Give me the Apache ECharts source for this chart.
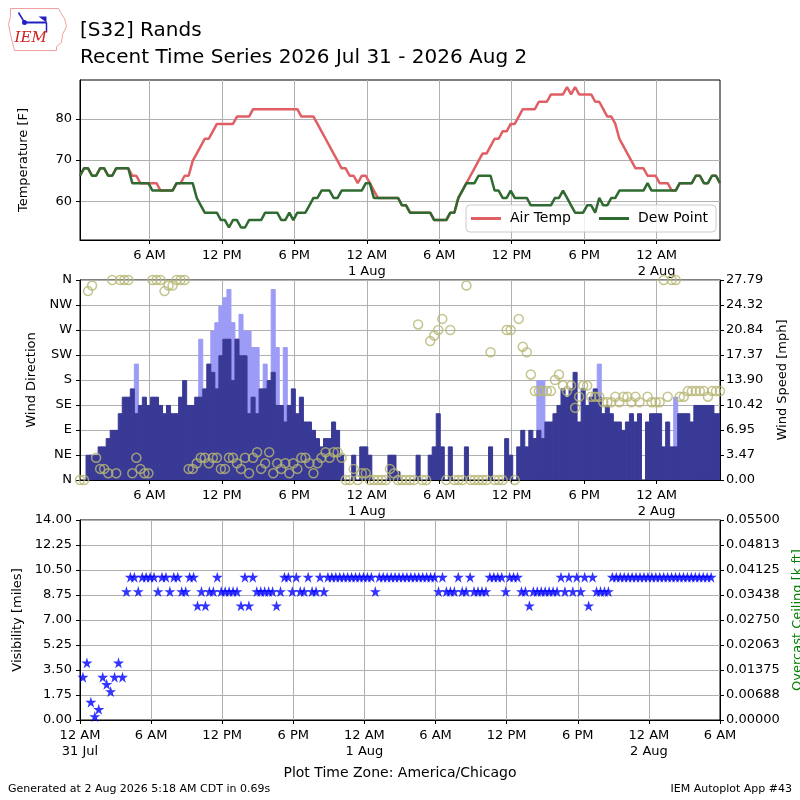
<!DOCTYPE html>
<html><head><meta charset="utf-8">
<script src="https://cdn.jsdelivr.net/npm/echarts@6/dist/echarts.min.js"></script>
<style>html,body{margin:0;padding:0;background:#fff}#c{width:800px;height:800px}</style>
</head><body><div id="c"></div>
<script>
// Observation times: hours since 31 Jul 00:00 (first ob 00:15, every 20 minutes)
const firstObHour = 0.25;
const obStepHour = 1 / 3;

const airTempF = [
66.2,68,68,66.2,66.2,68,68,66.2,66.2,68, 68,68,68,66.2,66.2,64.4,64.4,64.4,64.4,64.4,
62.6,62.6,62.6,62.6,64.4,64.4,66.2,66.2,69.8,71.6, 73.4,75.2,75.2,77,78.8,78.8,78.8,78.8,78.8,80.6,
80.6,80.6,80.6,82.4,82.4,82.4,82.4,82.4,82.4,82.4, 82.4,82.4,82.4,82.4,82.4,80.6,80.6,80.6,80.6,78.8,
77,75.2,73.4,71.6,69.8,68,68,66.2,66.2,64.4, 66.2,66.2,64.4,62.6,60.8,60.8,60.8,60.8,60.8,60.8,
59,59,57.2,57.2,57.2,57.2,57.2,57.2,55.4,55.4, 55.4,55.4,57.2,57.2,60.8,62.6,64.4,66.2,68,69.8,
71.6,71.6,73.4,75.2,75.2,77,77,78.8,78.8,80.6, 82.4,82.4,82.4,82.4,84.2,84.2,84.2,86,86,86,
86,87.8,86,87.8,86,86,86,86,84.2,84.2, 82.4,80.6,80.6,78.8,75.2,73.4,71.6,69.8,68,68,
68,66.2,66.2,66.2,64.4,64.4,64.4,62.6,62.6,64.4, 64.4,64.4,64.4,66.2,66.2,64.4,64.4,66.2,66.2,64.4
];
const dewPointF = [
66.2,68,68,66.2,66.2,68,68,66.2,66.2,68, 68,68,68,64.4,64.4,64.4,64.4,64.4,62.6,62.6,
62.6,62.6,62.6,62.6,64.4,64.4,64.4,64.4,64.4,60.8, 59,57.2,57.2,57.2,57.2,55.4,55.4,53.6,55.4,55.4,
53.6,53.6,55.4,55.4,55.4,55.4,57.2,57.2,57.2,57.2, 55.4,55.4,57.2,55.4,57.2,57.2,57.2,59,60.8,60.8,
62.6,62.6,62.6,60.8,60.8,62.6,62.6,62.6,62.6,62.6, 62.6,64.4,64.4,60.8,60.8,60.8,60.8,60.8,60.8,60.8,
59,59,57.2,57.2,57.2,57.2,57.2,57.2,55.4,55.4, 55.4,55.4,57.2,57.2,60.8,62.6,64.4,64.4,64.4,66.2,
66.2,66.2,66.2,62.6,62.6,60.8,60.8,62.6,60.8,60.8, 60.8,60.8,59,59,59,59,59,59,60.8,60.8,
62.6,60.8,59,57.2,57.2,57.2,59,59,57.2,60.8, 59,59,60.8,60.8,62.6,62.6,62.6,62.6,62.6,62.6,
62.6,64.4,62.6,62.6,62.6,62.6,62.6,62.6,62.6,64.4, 64.4,64.4,64.4,66.2,66.2,64.4,64.4,66.2,66.2,64.4
];
const windSpeedMph = [
0,0,3.45,3.45,3.45,4.6,4.6,5.75,6.9,6.9, 9.21,11.51,11.51,12.66,9.21,10.36,11.51,10.36,11.51,11.51,
10.36,9.21,10.36,9.21,9.21,11.51,13.81,10.36,10.36,11.51, 11.51,12.66,16.11,14.96,12.66,17.26,19.56,19.56,13.81,19.56,
17.26,17.26,9.21,11.51,9.21,12.66,12.66,13.81,14.96,10.36, 10.36,8.06,10.36,12.66,9.21,11.51,8.06,8.06,6.9,5.75,
4.6,5.75,5.75,8.06,6.9,3.45,0,0,3.45,0, 4.6,4.6,3.45,0,0,0,0,3.45,3.45,1.15,
0,0,0,0,3.45,0,0,3.45,4.6,9.21, 4.6,0,4.6,0,0,0,4.6,0,0,0,
0,0,4.6,0,0,0,5.75,3.45,0,4.6, 6.9,4.6,6.9,5.75,6.9,5.75,8.06,8.06,9.21,10.36,
12.66,11.51,12.66,14.96,8.06,12.66,10.36,11.51,12.66,11.51, 9.21,10.36,9.21,8.06,8.06,6.9,8.06,9.21,8.06,9.21,
0,8.06,9.21,9.21,9.21,4.6,8.06,4.6,4.6,9.21, 9.21,9.21,8.06,10.36,10.36,10.36,10.36,10.36,9.21,9.21
];
const windGustMph = [
null,null,null,null,null,null,null,null,null,null, null,null,null,null,16.11,null,null,null,null,null,
null,null,null,null,null,null,null,null,null,null, 19.56,null,null,20.71,21.86,24.17,25.32,26.47,21.86,19.56,
23.02,20.71,20.71,18.41,18.41,null,16.11,null,26.47,18.41, null,18.41,null,null,null,null,null,null,null,null,
null,null,null,null,null,null,null,null,null,null, null,null,null,null,null,null,null,null,null,null,
null,null,null,null,null,null,null,null,null,null, null,null,null,null,null,null,null,null,null,null,
null,null,null,null,null,null,null,null,null,null, null,null,null,null,13.81,13.81,null,null,null,null,
null,null,null,null,null,null,null,null,null,16.11, null,null,null,null,null,null,null,null,null,null,
null,null,null,null,null,null,null,null,11.51,null, null,null,null,null,null,null,null,null,null,null
];
const windDirDeg = [
0,0,340,350,40,20,20,12,360,12, 360,360,360,12,40,20,12,12,360,360,
360,340,350,350,360,360,360,20,20,30, 40,40,30,40,40,20,20,40,40,30,
20,40,12,40,50,20,30,50,12,30, 20,30,12,30,20,40,40,30,12,30,
40,50,40,50,50,40,0,0,20,0, 12,12,0,0,0,0,0,20,12,0,
0,0,0,0,280,0,0,250,260,270, 290,0,270,0,0,0,350,0,0,0,
0,0,230,0,0,0,270,270,0,290, 240,230,190,160,160,160,160,160,180,190,
170,160,170,130,150,170,170,150,150,150, 140,140,140,150,140,150,150,140,150,140,
null,150,140,140,140,360,150,360,360,150, 150,160,160,160,160,160,150,160,160,160
];
const visibilityMi = [
3,4,1.25,0.25,0.75,3,2.5,2,3,4, 3,9,10,10,9,10,10,10,10,9,
10,10,9,10,10,9,9,10,10,8, 9,8,9,9,10,9,9,9,9,9,
8,10,8,10,9,9,9,9,9,8, 9,10,10,9,10,9,9,10,9,9,
10,9,10,10,10,10,10,10,10,10, 10,10,10,10,9,10,10,10,10,10,
10,10,10,10,10,10,10,10,10,10, 9,10,9,9,9,10,9,9,10,9,
9,9,9,10,10,10,10,9,10,10, 10,9,9,8,9,9,9,9,9,9,
9,10,9,10,9,10,9,10,8,10, 9,9,9,9,10,10,10,10,10,10,
10,10,10,10,10,10,10,10,10,10, 10,10,10,10,10,10,10,10,10,10
];

const hourLabels = ['12 AM', '6 AM', '12 PM', '6 PM'];
const dayLabels = ['31 Jul', '1 Aug', '2 Aug'];
const dirLabels = ['N', 'NE', 'E', 'SE', 'S', 'SW', 'W', 'NW', 'N'];
const tempTicks = [60, 70, 80];
const topTimeTicks = [6, 12, 18, 24, 30, 36, 42, 48];

const times = airTempF.map((_, i) => firstObHour + i * obStepHour);
const pair = arr => arr.map((v, i) => [times[i], v]);

const FONT = 'DejaVu Sans';
function timeFmt(h) {
  const r = Math.round(h);
  const hod = ((r % 24) + 24) % 24;
  const lab = hourLabels[hod / 6];
  return hod === 0 ? lab + '\n' + dayLabels[Math.floor(r / 24)] : lab;
}
const gridLine = { show: true, lineStyle: { color: '#b0b0b0', width: 1 } };
const blackLine = { show: true, lineStyle: { color: '#000', width: 1 } };
const tick = { show: true, length: 4, inside: false, lineStyle: { color: '#000' } };
const lbl = { color: '#000', fontSize: 13, fontFamily: FONT };

function xAx(grid, top) {
  const ax = {
    type: 'value', gridIndex: grid,
    min: top ? 0.25 : 0, max: top ? 53.25 : 54,
    axisLine: blackLine, splitLine: gridLine,
    axisTick: Object.assign({}, tick),
    axisLabel: Object.assign({ formatter: timeFmt, lineHeight: 16, margin: 8 }, lbl)
  };
  if (top) {
    ax.axisTick.customValues = topTimeTicks;
    ax.axisLabel.customValues = topTimeTicks;
  } else {
    ax.interval = 6;
  }
  return ax;
}

// bars drawn as rectangles spanning one observation interval, positioned via the axis scales
function barRenderer(color) {
  return function (params, api) {
    const t = api.value(0), v = api.value(1);
    if (v == null || isNaN(v) || v <= 0) return;
    const p0 = api.coord([t - obStepHour / 2, v]);
    const p1 = api.coord([t + obStepHour / 2, 0]);
    return {
      type: 'rect',
      shape: { x: p0[0], y: p0[1], width: p1[0] - p0[0], height: p1[1] - p0[1] },
      style: { fill: color, stroke: color, lineWidth: 1 }
    };
  };
}

const gridBase = { left: 80, right: 80, show: true, borderColor: '#000', borderWidth: 1,
  backgroundColor: 'transparent', containLabel: false, outerBoundsMode: 'none' };

const chart = echarts.init(document.getElementById('c'), null, { renderer: 'canvas' });
const option = {
  animation: false,
  backgroundColor: '#fff',
  textStyle: { fontFamily: FONT },
  grid: [
    Object.assign({ top: 80, height: 160 }, gridBase),
    Object.assign({ top: 280, height: 200 }, gridBase),
    Object.assign({ top: 520, height: 200 }, gridBase)
  ],
  xAxis: [
    xAx(0, true), xAx(1, true), xAx(2, false)
  ],
  yAxis: [
    { type: 'value', gridIndex: 0, min: 50.56, max: 89.5, position: 'left',
      name: 'Temperature [F]', nameLocation: 'middle', nameGap: 50, nameRotate: 90,
      nameTextStyle: { fontSize: 13, fontFamily: FONT, color: '#000' },
      axisLine: blackLine, splitLine: gridLine,
      axisTick: Object.assign({ customValues: tempTicks }, tick),
      axisLabel: Object.assign({ customValues: tempTicks, margin: 8 }, lbl) },
    { type: 'value', gridIndex: 1, min: 0, max: 360, interval: 45, position: 'left',
      name: 'Wind Direction', nameLocation: 'middle', nameGap: 40, nameRotate: 90,
      nameTextStyle: { fontSize: 13, fontFamily: FONT, color: '#000' },
      axisLine: blackLine, splitLine: gridLine, axisTick: tick,
      axisLabel: Object.assign({ formatter: v => dirLabels[Math.round(v / 45)], margin: 8 }, lbl) },
    { type: 'value', gridIndex: 1, min: 0, max: 27.792, interval: 27.792 / 8, position: 'right',
      name: 'Wind Speed [mph]', nameLocation: 'middle', nameGap: 56, nameRotate: 90,
      nameTextStyle: { fontSize: 13, fontFamily: FONT, color: '#000' },
      axisLine: blackLine, splitLine: { show: false }, axisTick: tick,
      axisLabel: Object.assign({ formatter: v => v.toFixed(2), margin: 6 }, lbl) },
    { type: 'value', gridIndex: 2, min: 0, max: 14, interval: 1.75, position: 'left',
      name: 'Visibility [miles]', nameLocation: 'middle', nameGap: 56, nameRotate: 90,
      nameTextStyle: { fontSize: 13, fontFamily: FONT, color: '#000' },
      axisLine: blackLine, splitLine: gridLine, axisTick: tick,
      axisLabel: Object.assign({ formatter: v => v.toFixed(2), margin: 8 }, lbl) },
    { type: 'value', gridIndex: 2, min: 0, max: 0.055, interval: 0.006875, position: 'right',
      name: 'Overcast Ceiling [k ft]', nameLocation: 'middle', nameGap: 70, nameRotate: 90,
      nameTextStyle: { fontSize: 13, fontFamily: FONT, color: '#008000' },
      axisLine: blackLine, splitLine: { show: false }, axisTick: tick,
      axisLabel: Object.assign({ formatter: v => (Math.round(v * 100000 + 1e-6) / 100000).toFixed(5), margin: 6 }, lbl) }
  ],
  legend: {
    data: ['Air Temp', 'Dew Point'], left: 466, top: 205,
    icon: 'rect', itemWidth: 30, itemHeight: 3, itemGap: 28,
    padding: [5, 8, 5, 5],
    backgroundColor: 'rgba(255,255,255,0.8)', borderColor: '#cccccc', borderWidth: 1, borderRadius: 4,
    textStyle: { fontSize: 14, fontFamily: FONT, color: '#000', padding: [0, 0, 0, 4], lineHeight: 17 }
  },
  series: [
    { name: 'Air Temp', type: 'line', xAxisIndex: 0, yAxisIndex: 0, data: pair(airTempF),
      symbol: 'none', lineStyle: { color: '#df5f65', width: 2.5 }, itemStyle: { color: '#df5f65' }, z: 3 },
    { name: 'Dew Point', type: 'line', xAxisIndex: 0, yAxisIndex: 0, data: pair(dewPointF),
      symbol: 'none', lineStyle: { color: '#2f6a31', width: 2.5 }, itemStyle: { color: '#2f6a31' }, z: 4 },
    { name: 'Gust', type: 'custom', xAxisIndex: 1, yAxisIndex: 2, data: pair(windGustMph),
      encode: { x: 0, y: 1 }, clip: true, renderItem: barRenderer('#9c9cf6'), z: 2 },
    { name: 'Speed', type: 'custom', xAxisIndex: 1, yAxisIndex: 2, data: pair(windSpeedMph),
      encode: { x: 0, y: 1 }, clip: true, renderItem: barRenderer('#393996'), z: 3 },
    { name: 'Direction', type: 'scatter', xAxisIndex: 1, yAxisIndex: 1,
      data: pair(windDirDeg).filter(d => d[1] !== null),
      symbol: 'circle', symbolSize: 9,
      itemStyle: { color: 'rgba(0,0,0,0)', borderColor: '#b7b774', borderWidth: 1.5 }, z: 5 },
    { name: 'Visibility', type: 'scatter', xAxisIndex: 2, yAxisIndex: 3, data: pair(visibilityMi),
      symbol: 'path://M50,0 L61,35 L98,35 L68,57 L79,91 L50,70 L21,91 L32,57 L2,35 L39,35 Z',
      symbolSize: 11, itemStyle: { color: '#0000ff' }, z: 5 }
  ],
  graphic: [
    { type: 'text', left: 80, top: 21, style: { text: '[S32] Rands', font: '20px "DejaVu Sans"', fill: '#000' } },
    { type: 'text', left: 80, top: 48, style: { text: 'Recent Time Series 2026 Jul 31 - 2026 Aug 2', font: '20px "DejaVu Sans"', fill: '#000' } },
    { type: 'text', left: 'center', top: 766, style: { text: 'Plot Time Zone: America/Chicago', font: '14px "DejaVu Sans"', fill: '#000' } },
    { type: 'text', left: 8, top: 784, style: { text: 'Generated at 2 Aug 2026 5:18 AM CDT in 0.69s', font: '11px "DejaVu Sans"', fill: '#000' } },
    { type: 'text', right: 8, top: 784, style: { text: 'IEM Autoplot App #43', font: '11px "DejaVu Sans"', fill: '#000' } },
    { type: 'group', left: 6, top: 6, children: [
      { type: 'polyline', shape: { points: [[4,4],[52,4],[54,8],[58,14],[60,22],[56,30],[55,38],[50,42],[50,46],[8,46],[6,38],[4,30],[2,20],[4,12],[4,4]] },
        style: { stroke: '#f0a0a0', fill: 'none', lineWidth: 1 } },
      { type: 'line', shape: { x1: 18, y1: 18, x2: 40, y2: 18 }, style: { stroke: '#2020c0', lineWidth: 2 } },
      { type: 'line', shape: { x1: 12, y1: 8, x2: 18, y2: 18 }, style: { stroke: '#2020c0', lineWidth: 1.5 } },
      { type: 'line', shape: { x1: 40, y1: 18, x2: 40, y2: 28 }, style: { stroke: '#2020c0', lineWidth: 1.5 } },
      { type: 'polygon', shape: { points: [[32,12],[40,12],[40,18]] }, style: { fill: '#2020c0' } },
      { type: 'circle', shape: { cx: 18, cy: 18, r: 2.5 }, style: { fill: '#2020c0' } },
      { type: 'text', left: 8, top: 26, style: { text: 'IEM', font: 'italic 15px "DejaVu Serif"', fill: '#d02020' } }
    ] }
  ]
};
chart.setOption(option);
</script>
</body></html>
